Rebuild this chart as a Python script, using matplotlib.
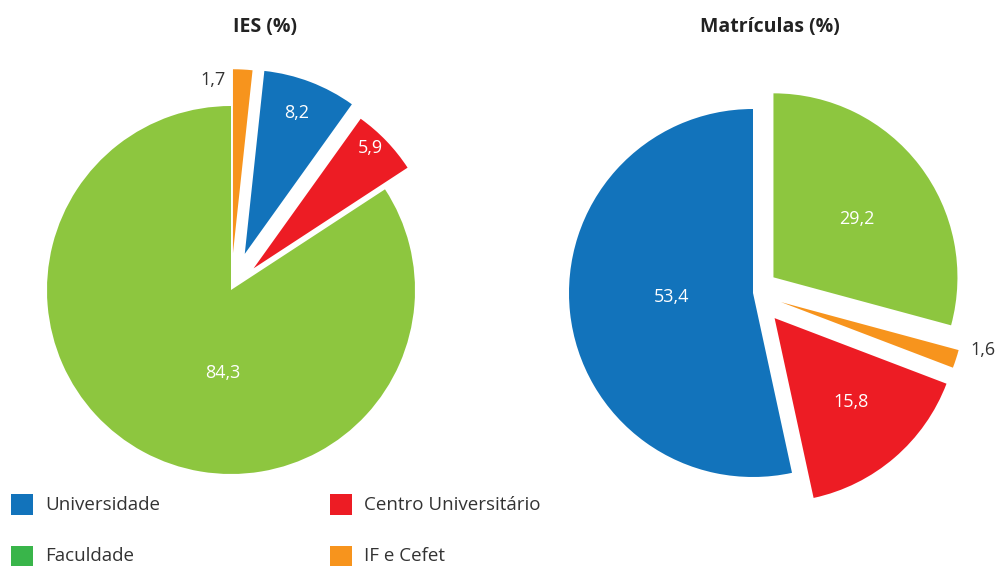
import matplotlib
matplotlib.use('Agg')
import matplotlib.pyplot as plt
from matplotlib.patches import Rectangle

plt.rcParams['font.family'] = ['Open Sans', 'DejaVu Sans']

# dados
ies_cats = ['IF e Cefet', 'Universidade', 'Centro Universitário', 'Faculdade']
ies_vals = [1.7, 8.2, 5.9, 84.3]
mat_cats = ['Faculdade', 'IF e Cefet', 'Centro Universitário', 'Universidade']
mat_vals = [29.2, 1.6, 15.8, 53.4]
legend_cats = ['Universidade', 'Centro Universitário', 'Faculdade', 'IF e Cefet']

cores = {'Universidade': '#1273bb', 'Centro Universitário': '#ed1c24',
         'Faculdade': '#8dc63f', 'IF e Cefet': '#f7941d'}
cores_leg = {'Universidade': '#1273bb', 'Centro Universitário': '#ed1c24',
             'Faculdade': '#39b54a', 'IF e Cefet': '#f7941d'}

W, H = 997, 566
R = 184.0
half = 270.0

fig = plt.figure(figsize=(W / 100, H / 100), dpi=100)


def pie_ax(cx, cy):
    ax = fig.add_axes([(cx - half) / W, (H - cy - half) / H, 2 * half / W, 2 * half / H])
    return ax


def fmt(v):
    return ('%.1f' % v).replace('.', ',')


def draw(ax, cats, vals, explode, label_pos, label_col):
    ax.pie(vals, explode=explode, colors=[cores[c] for c in cats],
           startangle=90, counterclock=False, radius=1,
           wedgeprops=dict(linewidth=0))
    lim = half / R
    ax.set_xlim(-lim, lim)
    ax.set_ylim(-lim, lim)
    ax.set_axis_off()
    for v, (x, y), col in zip(vals, label_pos, label_col):
        ax.text(x, y, fmt(v), ha='center', va='center', fontsize=13, color=col)


ax1 = pie_ax(231, 290)
draw(ax1, ies_cats, ies_vals, [0.2, 0.21, 0.17, 0],
     [(-0.098, 1.141), (0.359, 0.962), (0.755, 0.772), (-0.043, -0.451)],
     ['#333333', 'white', 'white', 'white'])

ax2 = pie_ax(753, 293)
draw(ax2, mat_cats, mat_vals, [0.14, 0.16, 0.18, 0],
     [(0.565, 0.402), (1.25, -0.31), (0.533, -0.592), (-0.44, -0.022)],
     ['white', '#333333', 'white', 'white'])

fig.text(265 / W, 1 - 27 / H, 'IES (%)', ha='center', va='center',
         fontsize=14, fontweight='bold', color='#222222')
fig.text(770 / W, 1 - 27 / H, 'Matrículas (%)', ha='center', va='center',
         fontsize=14, fontweight='bold', color='#222222')

# legenda
leg_xy = [(11, 504.5), (330, 504.5), (11, 556), (330, 556)]
for c, (x, y) in zip(legend_cats, leg_xy):
    fig.add_artist(Rectangle((x / W, 1 - (y + 10.5) / H), 22 / W, 21 / H,
                             transform=fig.transFigure, color=cores_leg[c], lw=0))
    fig.text((x + 34) / W, 1 - y / H, c, ha='left', va='center',
             fontsize=13.5, color='#333333')

fig.savefig('out.png', dpi=100)
